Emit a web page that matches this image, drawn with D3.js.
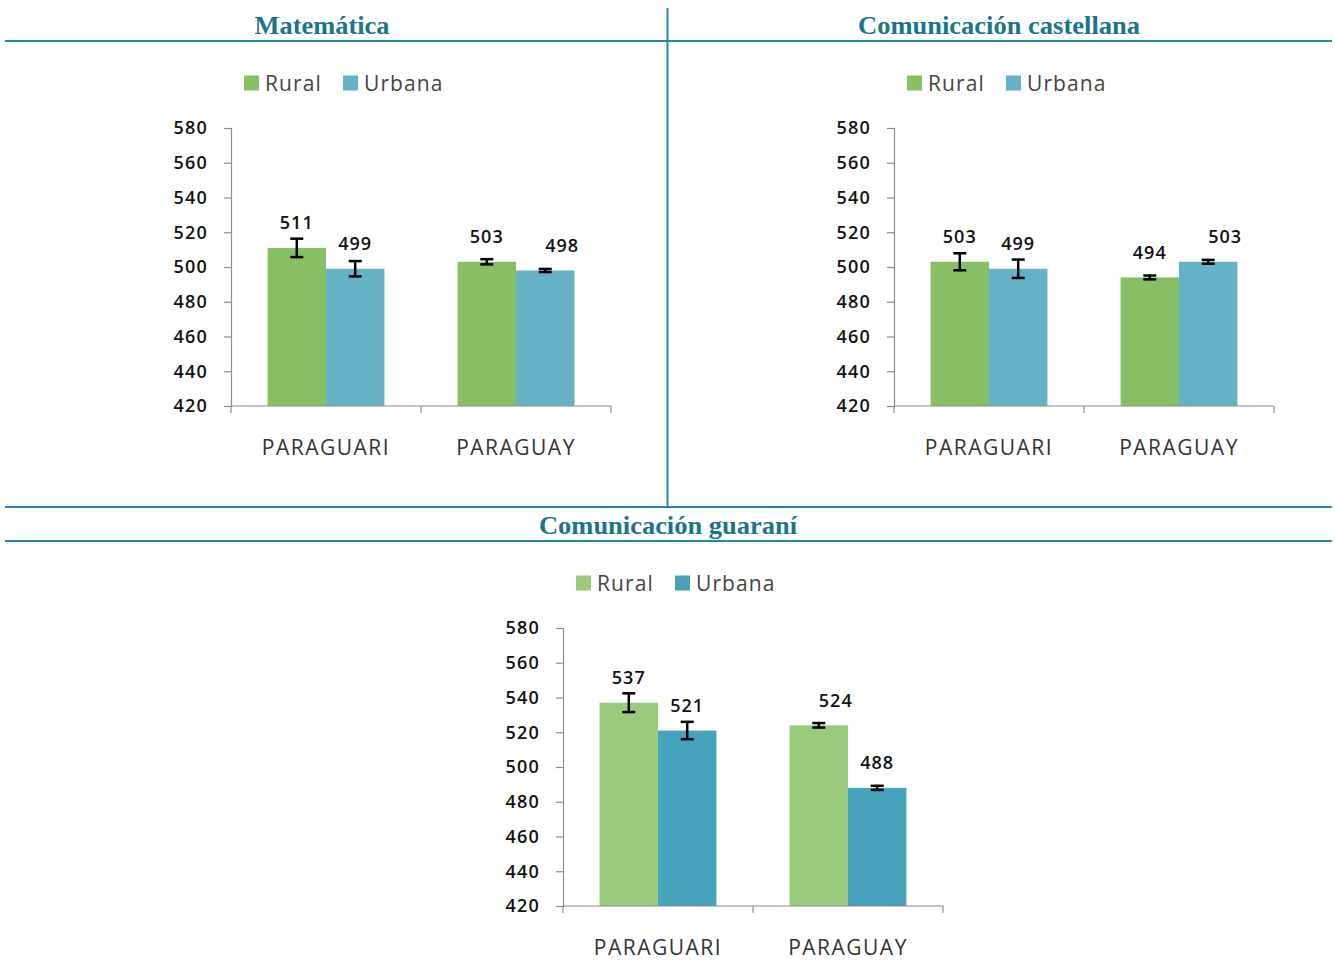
<!DOCTYPE html>
<html><head><meta charset="utf-8">
<script src="https://cdn.jsdelivr.net/npm/d3@7"></script>
<style>
html,body{margin:0;padding:0;background:#fff;}
svg{display:block;}
</style></head>
<body>
<svg id="c" width="1335" height="962"></svg>
<script>
// ---- data ----
const categories = ["PARAGUARI", "PARAGUAY"];
const seriesNames = ["Rural", "Urbana"];
const yTicks = [420, 440, 460, 480, 500, 520, 540, 560, 580];
const titles = ["Matemática", "Comunicación castellana", "Comunicación guaraní"];

const mateRural = [511, 503];
const mateUrbana = [499, 498];
const mateRuralErr = [5.3, 1.5];
const mateUrbanaErr = [4.4, 0.9];

const castRural = [503, 494];
const castUrbana = [499, 503];
const castRuralErr = [4.9, 1.1];
const castUrbanaErr = [5.3, 1.1];

const guarRural = [537, 524];
const guarUrbana = [521, 488];
const guarRuralErr = [5.4, 1.3];
const guarUrbanaErr = [5.0, 1.2];

// ---- layout / style ----
const panels = [
  {title: titles[0], values: [mateRural, mateUrbana], errs: [mateRuralErr, mateUrbanaErr],
   ax: 231, top: 128, bottom: 406, colors: ["#87bf64", "#65b1c6"], titleX: 322, titleY: 25, titleW: 135,
   labelDx: [[0, 0], [0, 17]]},
  {title: titles[1], values: [castRural, castUrbana], errs: [castRuralErr, castUrbanaErr],
   ax: 894, top: 128, bottom: 406, colors: ["#87bf64", "#65b1c6"], titleX: 999, titleY: 25, titleW: 282,
   labelDx: [[0, 0], [0, 17]]},
  {title: titles[2], values: [guarRural, guarUrbana], errs: [guarRuralErr, guarUrbanaErr],
   ax: 563, top: 628, bottom: 906, colors: ["#9aca7b", "#47a3bc"], titleX: 668, titleY: 525, titleW: 258,
   labelDx: [[0, 17], [0, 0]]}
];
const plotW = 380;
const lineColor = "#2389a4";
const titleColor = "#1b7588";
const axisColor = "#8c8c8c";
const sans = "'Open Sans', 'Noto Sans', sans-serif";

const svg = d3.select("#c");

// frame lines
const frame = svg.append("g").attr("stroke", lineColor).attr("stroke-width", 2);
frame.append("line").attr("x1", 5).attr("x2", 1332).attr("y1", 41).attr("y2", 41);
frame.append("line").attr("x1", 667.5).attr("x2", 667.5).attr("y1", 8).attr("y2", 506);
frame.append("line").attr("x1", 5).attr("x2", 1332).attr("y1", 507).attr("y2", 507);
frame.append("line").attr("x1", 5).attr("x2", 1332).attr("y1", 541).attr("y2", 541);

panels.forEach(p => {
  // title
  svg.append("text")
    .attr("x", p.titleX).attr("y", p.titleY).attr("dy", "0.35em")
    .attr("text-anchor", "middle")
    .attr("font-family", "'Liberation Serif', 'DejaVu Serif', serif")
    .attr("font-weight", "bold").attr("font-size", 25)
    .attr("fill", titleColor)
    .attr("textLength", p.titleW).attr("lengthAdjust", "spacingAndGlyphs")
    .text(p.title);

  const g = svg.append("g").attr("transform", `translate(${p.ax},${p.top})`);
  const h = p.bottom - p.top;
  const y = d3.scaleLinear().domain([420, 580]).range([h, 0]);
  const x0 = d3.scaleBand().domain(categories).range([0, plotW]).paddingInner(0.385).paddingOuter(0.1925);
  const x1 = d3.scaleBand().domain(seriesNames).range([0, x0.bandwidth()]);

  // legend
  const leg = g.append("g").attr("transform", "translate(0,-45)");
  seriesNames.forEach((s, i) => {
    const lx = 13 + i * 99;
    leg.append("rect").attr("x", lx).attr("y", -7.5).attr("width", 15).attr("height", 15).attr("fill", p.colors[i]);
    leg.append("text").attr("x", lx + 21).attr("y", 0).attr("dy", "0.36em")
      .attr("font-family", sans).attr("font-size", 21).attr("letter-spacing", 1.1)
      .attr("fill", "#444").text(s);
  });

  // bars
  seriesNames.forEach((s, si) => {
    categories.forEach((c, ci) => {
      const v = p.values[si][ci];
      const bx = x0(c) + x1(s);
      g.append("rect").attr("x", bx).attr("width", x1.bandwidth())
        .attr("y", y(v)).attr("height", h - y(v)).attr("fill", p.colors[si]);
    });
  });

  // error bars + labels
  seriesNames.forEach((s, si) => {
    categories.forEach((c, ci) => {
      const v = p.values[si][ci], e = p.errs[si][ci];
      const cx = x0(c) + x1(s) + x1.bandwidth() / 2;
      const eg = g.append("g").attr("stroke", "#000").attr("stroke-width", 2.5);
      eg.append("line").attr("x1", cx).attr("x2", cx).attr("y1", y(v + e)).attr("y2", y(v - e));
      eg.append("line").attr("x1", cx - 6.5).attr("x2", cx + 6.5).attr("y1", y(v + e)).attr("y2", y(v + e));
      eg.append("line").attr("x1", cx - 6.5).attr("x2", cx + 6.5).attr("y1", y(v - e)).attr("y2", y(v - e));
      g.append("text").attr("x", cx + p.labelDx[si][ci]).attr("y", y(v) - 25).attr("dy", "0.35em")
        .attr("text-anchor", "middle").attr("font-family", sans).attr("font-size", 18)
        .attr("letter-spacing", 1).attr("font-weight", 600).attr("fill", "#111").text(v);
    });
  });

  // y axis
  const ya = g.append("g").call(d3.axisLeft(y).tickValues(yTicks).tickSize(7).tickPadding(16).tickFormat(d3.format("d")));
  ya.select(".domain").attr("stroke", axisColor).attr("stroke-width", 1.2);
  ya.selectAll(".tick line").attr("stroke", axisColor).attr("stroke-width", 1.2);
  ya.selectAll(".tick text").attr("font-family", sans).attr("font-size", 18).attr("letter-spacing", 1.2)
    .attr("font-weight", 600).attr("fill", "#111");

  // x axis
  const xa = g.append("g").attr("transform", `translate(0,${h})`);
  xa.append("line").attr("x1", 0).attr("x2", plotW).attr("stroke", axisColor).attr("stroke-width", 1.2);
  [0, plotW / 2, plotW].forEach(t => {
    xa.append("line").attr("x1", t).attr("x2", t).attr("y1", 0).attr("y2", 7).attr("stroke", axisColor).attr("stroke-width", 1.2);
  });
  categories.forEach(c => {
    xa.append("text").attr("x", x0(c) + x0.bandwidth() / 2).attr("y", 42).attr("dy", "0.35em")
      .attr("text-anchor", "middle").attr("font-family", sans).attr("font-size", 21)
      .attr("letter-spacing", 1.5).attr("fill", "#333").text(c);
  });
});
</script>
</body></html>
